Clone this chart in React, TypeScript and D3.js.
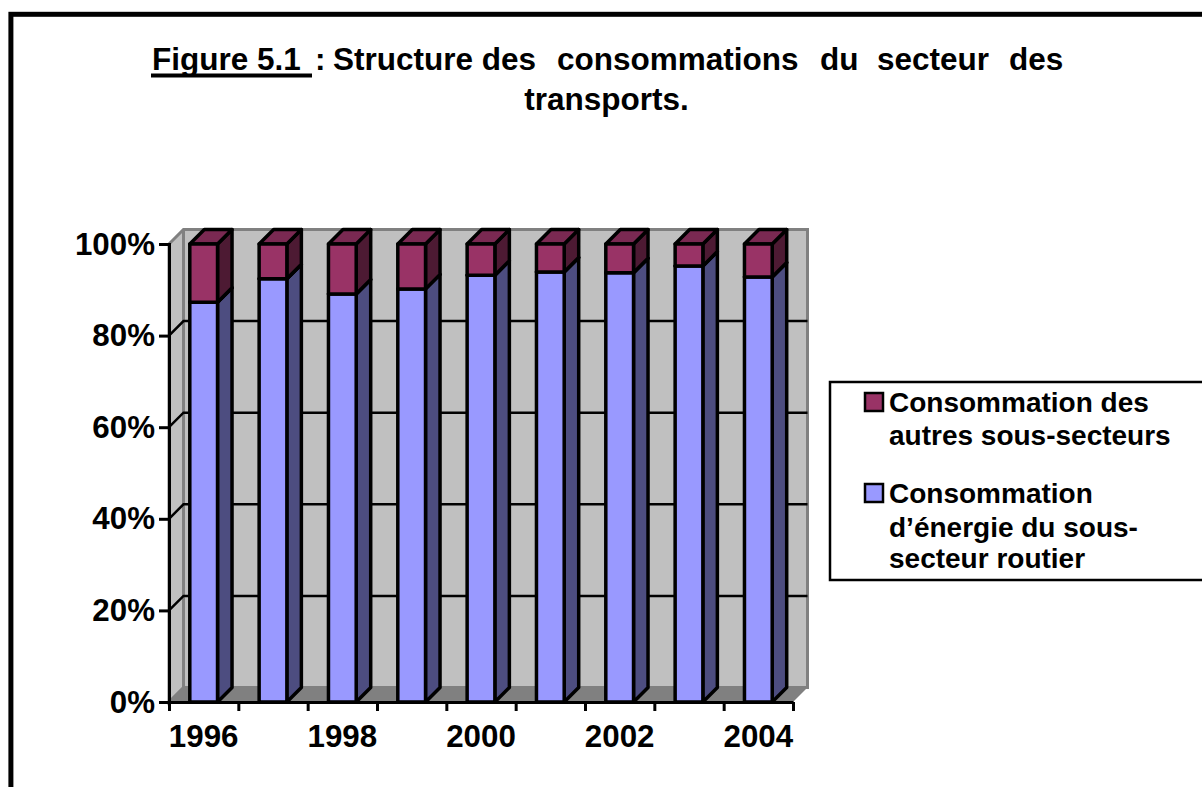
import * as d3 from 'd3';
import { useRef, useEffect } from 'react';

const years = ['1996', '1997', '1998', '1999', '2000', '2001', '2002', '2003', '2004'];
const routier = [87.3, 92.4, 89.1, 90.2, 93.2, 93.9, 93.7, 95.2, 92.8];
const autres = [12.7, 7.6, 10.9, 9.8, 6.8, 6.1, 6.3, 4.8, 7.2];
const yTicks = [0, 20, 40, 60, 80, 100];
const xLabels = ['1996', '1998', '2000', '2002', '2004'];
const titleWords = [
  { text: 'Figure 5.1', x: 152 },
  { text: ':', x: 315 },
  { text: 'Structure des', x: 333 },
  { text: 'consommations', x: 557 },
  { text: 'du', x: 820 },
  { text: 'secteur', x: 877 },
  { text: 'des', x: 1009 },
];

const purple = { front: '#993366', side: '#4d1a33', top: '#7a2952' };
const blue = { front: '#9999ff', side: '#4d4d80', top: '#7a7acc' };
const font = '"Liberation Sans", Arial, sans-serif';

const App = () => {
  const svgRef = useRef<SVGSVGElement>(null);

  useEffect(() => {
    const svg = d3.select(svgRef.current);
    svg.selectAll('*').remove();
    const width = 1202;
    const height = 787;
    const plot = { left: 169, right: 793, top: 244, bottom: 702 };
    const depth = 14.5;

    svg.attr('width', width).attr('height', height)
      .style('position', 'fixed').style('left', 0).style('top', 0)
      .style('font-family', font).style('font-weight', 'bold');

    svg.append('rect').attr('width', width).attr('height', height).attr('fill', '#fff');
    // page frame, runs off the picture on the right and the bottom
    svg.append('rect').attr('x', 10.9).attr('y', 14.3).attr('width', width + 20).attr('height', height + 20)
      .attr('fill', 'none').attr('stroke', '#000').attr('stroke-width', 5);

    // title
    const title = svg.append('g').attr('font-size', 31.5).attr('fill', '#000');
    titleWords.forEach(w => {
      title.append('text').attr('x', w.x).attr('y', 70).text(w.text);
    });
    title.append('rect').attr('x', 151).attr('y', 73.5).attr('width', 161).attr('height', 4);
    title.append('text').attr('x', 606.5).attr('y', 110).attr('text-anchor', 'middle').text('transports.');

    const x = d3.scaleBand().domain(years).range([plot.left, plot.right]).paddingInner(0.6).paddingOuter(0.3);
    const y = d3.scaleLinear().domain([0, 100]).range([plot.bottom, plot.top]);
    const edges = d3.scaleLinear().domain([0, years.length]).range([plot.left, plot.right]);

    const path = (pts: [number, number][]) => d3.line()(pts) + 'Z';

    // walls and floor
    svg.append('path')
      .attr('d', path([[plot.left, plot.top], [plot.left + depth, plot.top - depth], [plot.right + depth, plot.top - depth], [plot.right + depth, plot.bottom - depth], [plot.left + depth, plot.bottom - depth], [plot.left, plot.bottom]]))
      .attr('fill', '#c0c0c0').attr('stroke', '#808080').attr('stroke-width', 3);
    svg.append('line')
      .attr('x1', plot.left + depth).attr('x2', plot.left + depth)
      .attr('y1', plot.top - depth).attr('y2', plot.bottom - depth)
      .attr('stroke', '#808080').attr('stroke-width', 3);
    svg.append('path')
      .attr('d', path([[plot.left, plot.bottom], [plot.right, plot.bottom], [plot.right + depth, plot.bottom - depth], [plot.left + depth, plot.bottom - depth]]))
      .attr('fill', '#808080');

    // gridlines
    yTicks.slice(1, -1).forEach(t => {
      const gy = y(t);
      svg.append('path')
        .attr('d', d3.line()([[plot.left, gy], [plot.left + depth, gy - depth], [plot.right + depth, gy - depth]]))
        .attr('fill', 'none').attr('stroke', '#000').attr('stroke-width', 2.5);
    });

    // stacked bars
    const table = years.map((year, i) => ({ year, routier: routier[i], autres: autres[i] }));
    const series = d3.stack().keys(['routier', 'autres'])(table as any);
    const colors = [blue, purple];
    series.forEach((s, si) => {
      const c = colors[si];
      s.forEach((d, i) => {
        const bx = x(years[i]) as number;
        const bw = x.bandwidth();
        const y0 = y(d[0]);
        const y1 = y(Math.min(d[1], 100));
        const g = svg.append('g').attr('stroke', '#000').attr('stroke-width', 3.5).attr('stroke-linejoin', 'round');
        g.append('path')
          .attr('d', path([[bx + bw, y0], [bx + bw + depth, y0 - depth], [bx + bw + depth, y1 - depth], [bx + bw, y1]]))
          .attr('fill', c.side);
        g.append('path')
          .attr('d', path([[bx, y1], [bx + depth, y1 - depth], [bx + bw + depth, y1 - depth], [bx + bw, y1]]))
          .attr('fill', c.top);
        g.append('rect').attr('x', bx).attr('y', y1).attr('width', bw).attr('height', y0 - y1).attr('fill', c.front);
      });
    });

    // axes
    const yAxis = svg.append('g').attr('transform', `translate(${plot.left},0)`)
      .call(d3.axisLeft(y).tickValues(yTicks).tickFormat(d => `${d}%`).tickSize(10).tickPadding(4));
    yAxis.selectAll('text').attr('font-size', 31.3).attr('font-family', font).attr('fill', '#000');
    yAxis.selectAll('line,path').attr('stroke', '#000').attr('stroke-width', 3);

    const xTicks = svg.append('g').attr('transform', `translate(0,${plot.bottom})`)
      .call(d3.axisBottom(edges).tickValues(d3.range(years.length + 1)).tickFormat(() => '').tickSize(9).tickSizeOuter(0));
    xTicks.selectAll('line,path').attr('stroke', '#000').attr('stroke-width', 3);

    const xAxis = svg.append('g').attr('transform', `translate(0,${plot.bottom})`)
      .call(d3.axisBottom(x).tickValues(xLabels).tickSize(0).tickPadding(23));
    xAxis.select('.domain').remove();
    xAxis.selectAll('text').attr('font-size', 31.3).attr('font-family', font).attr('fill', '#000');

    // legend
    const legend = svg.append('g');
    legend.append('rect').attr('x', 830).attr('y', 382).attr('width', 400).attr('height', 198)
      .attr('fill', '#fff').attr('stroke', '#000').attr('stroke-width', 2.5);
    const legendItems = [
      { color: purple.front, swatchY: 393, lines: ['Consommation des', 'autres sous-secteurs'], baselines: [412, 445] },
      { color: blue.front, swatchY: 484, lines: ['Consommation', 'd’énergie du sous-', 'secteur routier'], baselines: [503, 537, 568] },
    ];
    legendItems.forEach(item => {
      legend.append('rect').attr('x', 865).attr('y', item.swatchY).attr('width', 18).attr('height', 18)
        .attr('fill', item.color).attr('stroke', '#000').attr('stroke-width', 2.5);
      item.lines.forEach((t, i) => {
        legend.append('text').attr('x', 889).attr('y', item.baselines[i]).attr('font-size', 28).attr('fill', '#000').text(t);
      });
    });
  }, []);

  return <svg ref={svgRef}></svg>;
};

export default App;
